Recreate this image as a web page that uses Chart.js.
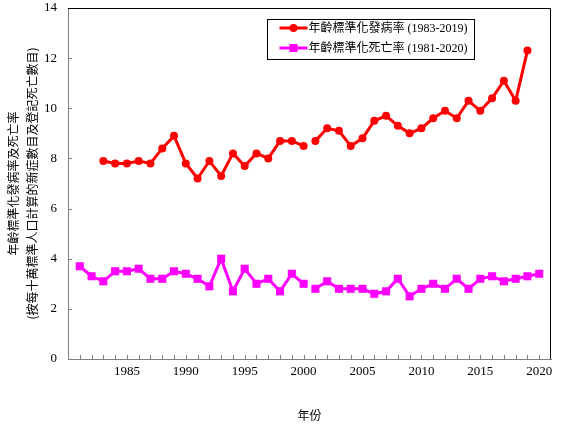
<!DOCTYPE html>
<html><head><meta charset="utf-8">
<script src="https://cdn.jsdelivr.net/npm/chart.js@4"></script>
<style>html,body{margin:0;padding:0;background:#fff}#wrap{width:571px;height:433px;position:relative}</style>
</head><body><div id="wrap"><canvas id="c"></canvas></div>
<script>
const incidenceYears=[1983,1984,1985,1986,1987,1988,1989,1990,1991,1992,1993,1994,1995,1996,1997,1998,1999,2000,
  2001,2002,2003,2004,2005,2006,2007,2008,2009,2010,2011,2012,2013,2014,2015,2016,2017,2018,2019];
const incidenceRates=[7.9,7.8,7.8,7.9,7.8,8.4,8.9,7.8,7.2,7.9,7.3,8.2,7.7,8.2,8.0,8.7,8.7,8.5,
  8.7,9.2,9.1,8.5,8.8,9.5,9.7,9.3,9.0,9.2,9.6,9.9,9.6,10.3,9.9,10.4,11.1,10.3,12.3];
const mortalityYears=[1981,1982,1983,1984,1985,1986,1987,1988,1989,1990,1991,1992,1993,1994,1995,1996,1997,1998,1999,2000,
  2001,2002,2003,2004,2005,2006,2007,2008,2009,2010,2011,2012,2013,2014,2015,2016,2017,2018,2019,2020];
const mortalityRates=[3.7,3.3,3.1,3.5,3.5,3.6,3.2,3.2,3.5,3.4,3.2,2.9,4.0,2.7,3.6,3.0,3.2,2.7,3.4,3.0,
  2.8,3.1,2.8,2.8,2.8,2.6,2.7,3.2,2.5,2.8,3.0,2.8,3.2,2.8,3.2,3.3,3.1,3.2,3.3,3.4];
const breakAfterYear=2000;
const seriesLabels=['年齡標準化發病率 (1983-2019)','年齡標準化死亡率 (1981-2020)'];
const yTitle=['年齡標準化發病率及死亡率','(按每十萬標準人口計算的新症數目及登記死亡數目)'];
const xTitle='年份';
const xLabelYears=[1985,1990,1995,2000,2005,2010,2015,2020];
const yTicks=[0,2,4,6,8,10,12,14];

const SERIF="'Liberation Serif','Noto Sans CJK TC',serif";
const CJK="'Noto Sans CJK TC','Liberation Serif',sans-serif";
const RED='#FF0000', MAG='#FF00FF', GRAY='#808080';

function toPts(xs,ys){return xs.map((x,i)=>({x:x,y:ys[i]}));}
const gapSeg={borderColor:c=>c.p0.parsed.x===breakAfterYear?'rgba(0,0,0,0)':undefined};

const frame={
  id:'frame',
  beforeDatasetsDraw(chart){
    const {ctx,chartArea:a,scales:{x,y}}=chart;
    ctx.save();
    ctx.strokeStyle=GRAY;ctx.lineWidth=1;
    ctx.beginPath();
    x.ticks.forEach(t=>{if(t.value>x.min&&t.value<x.max){const px=Math.round(x.getPixelForValue(t.value))+0.5;ctx.moveTo(px,a.bottom);ctx.lineTo(px,a.bottom-4);}});
    y.ticks.forEach(t=>{if(t.value>y.min&&t.value<y.max){const py=Math.round(y.getPixelForValue(t.value))+0.5;ctx.moveTo(a.left,py);ctx.lineTo(a.left+4,py);}});
    ctx.stroke();
    ctx.strokeStyle='#000';
    ctx.beginPath();
    const t=Math.round(a.top)+0.5, r=Math.round(a.right)-0.5;
    ctx.moveTo(a.left,t);ctx.lineTo(r,t);ctx.lineTo(r,a.bottom);
    ctx.stroke();
    ctx.restore();
  },
  afterDraw(chart){
    const {ctx,chartArea:a}=chart;
    const L=Math.round(a.left+199)+0.5, T=Math.round(a.top+11)+0.5, W=207, H=40;
    ctx.save();
    ctx.fillStyle='#fff';ctx.fillRect(L,T,W,H);
    ctx.strokeStyle='#000';ctx.lineWidth=1;ctx.strokeRect(L,T,W,H);
    chart.data.datasets.forEach((ds,i)=>{
      const cy=T+8.5+i*20;
      ctx.strokeStyle=ds.borderColor;ctx.lineWidth=3;
      ctx.beginPath();ctx.moveTo(L+12,cy);ctx.lineTo(L+40,cy);ctx.stroke();
      ctx.fillStyle=ds.borderColor;
      if(ds.pointStyle==='rect'){ctx.fillRect(L+26-4,cy-4,8,8);}
      else{ctx.beginPath();ctx.arc(L+26,cy,4,0,Math.PI*2);ctx.fill();}
      ctx.fillStyle='#000';ctx.font='12px '+SERIF;ctx.textBaseline='middle';ctx.textAlign='left';
      ctx.fillText(ds.label,L+41,cy+1);
    });
    ctx.restore();
  }
};

new Chart(document.getElementById('c'),{
  type:'line',
  data:{datasets:[
    {label:seriesLabels[0],data:toPts(incidenceYears,incidenceRates),borderColor:RED,backgroundColor:RED,borderWidth:3,
     pointStyle:'circle',pointRadius:4,pointBorderWidth:0,tension:0,segment:gapSeg},
    {label:seriesLabels[1],data:toPts(mortalityYears,mortalityRates),borderColor:MAG,backgroundColor:MAG,borderWidth:3,
     pointStyle:'rect',pointRadius:5.7,pointBorderWidth:0,tension:0,segment:gapSeg}
  ]},
  options:{
    responsive:true,maintainAspectRatio:false,animation:false,
    layout:{padding:{left:2,right:20,top:8,bottom:8}},
    plugins:{legend:{display:false},tooltip:{enabled:false}},
    scales:{
      x:{type:'linear',min:1980,max:2021,
        afterFit:s=>{s.height=66;s.paddingLeft=0;s.paddingRight=0;},
        grid:{display:false,drawTicks:false},
        border:{display:true,color:GRAY,width:1},
        ticks:{stepSize:1,autoSkip:false,maxRotation:0,padding:5,color:'#000',font:{family:SERIF,size:13},
          callback:v=>xLabelYears.includes(v)?String(v):''},
        title:{display:true,text:xTitle,color:'#000',font:{family:CJK,size:12,lineHeight:1.2},padding:{top:29,bottom:2}}
      },
      y:{min:0,max:14,
        afterBuildTicks:s=>{s.ticks=yTicks.map(v=>({value:v}));},
        afterFit:s=>{s.width=66;s.paddingTop=0;s.paddingBottom=0;},
        grid:{display:false,drawTicks:false},
        border:{display:true,color:GRAY,width:1},
        ticks:{padding:11,color:'#000',font:{family:SERIF,size:13}},
        title:{display:true,text:yTitle,color:'#000',font:{family:CJK,size:12,lineHeight:1.6},padding:{top:1.4,bottom:2.2}}
      }
    }
  },
  plugins:[frame]
});
</script></body></html>
